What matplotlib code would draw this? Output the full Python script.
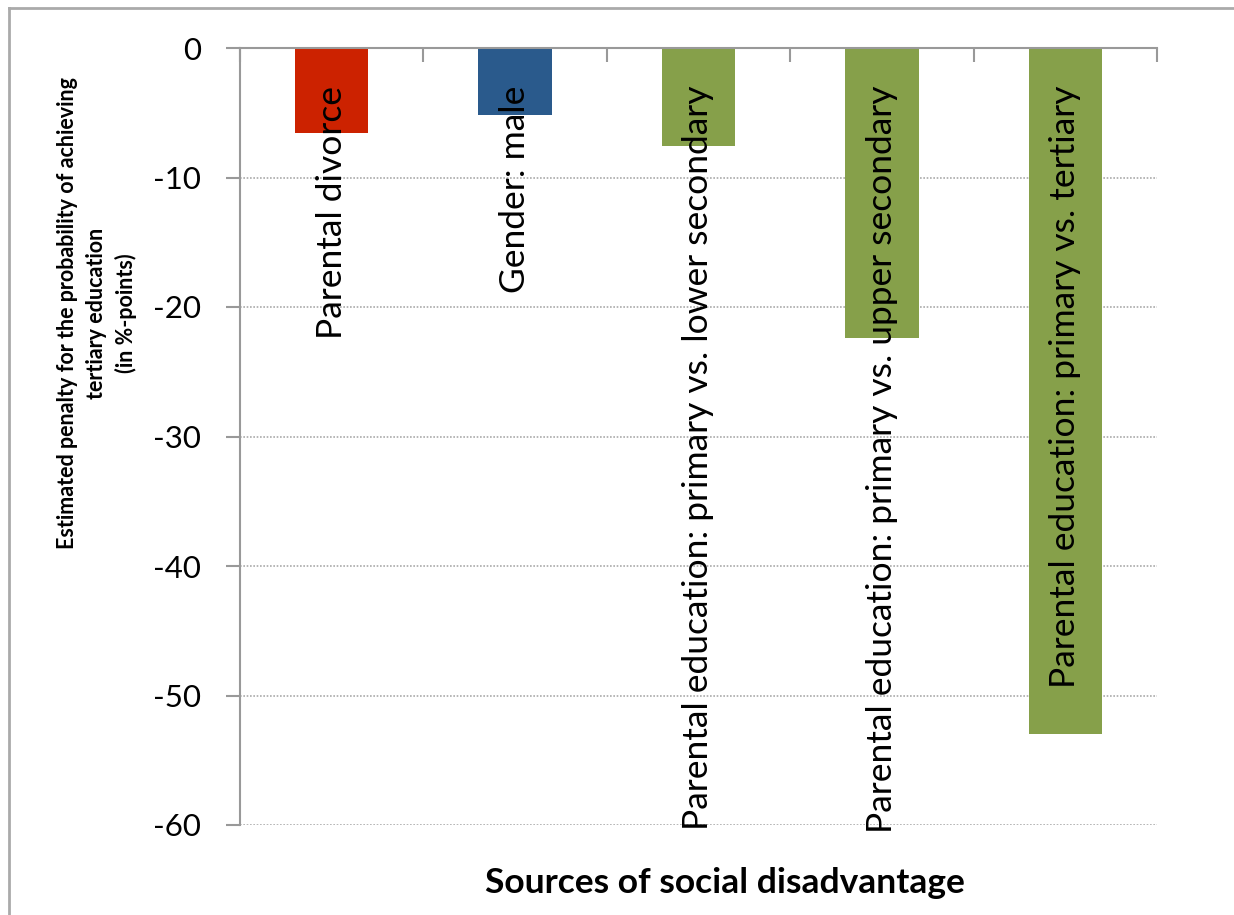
import numpy as np
import matplotlib.pyplot as plt
from matplotlib.lines import Line2D

# data
categories = ['Parental divorce', 'Gender: male',
              'Parental education: primary vs. lower secondary',
              'Parental education: primary vs. upper secondary',
              'Parental education: primary vs. tertiary']
penalty = [-6.6, -5.2, -7.6, -22.4, -53.0]
bar_colors = ['#CC2200', '#2A5A8C', '#86A04A', '#86A04A', '#86A04A']
yticks = [0, -10, -20, -30, -40, -50, -60]

plt.rcParams['font.family'] = ['Lato', 'DejaVu Sans']

fig = plt.figure(figsize=(12.34, 9.15), dpi=100)
ax = fig.add_axes([240 / 1234, 1 - 825 / 915, (1157 - 240) / 1234, (825 - 48) / 915])

x = np.arange(len(categories))
ax.bar(x, penalty, width=0.4, color=bar_colors, zorder=2)

for xi, lab in zip(x, categories):
    ax.text(xi, -2.9, lab, rotation=90, ha='center', va='top',
            fontsize=25.5, color='black', zorder=3)

ax.set_xlim(-0.5, len(categories) - 0.5)
ax.set_ylim(-60, 0)
ax.set_yticks(yticks)
ax.set_yticklabels([str(v) for v in yticks], fontsize=22.5)
ax.yaxis.grid(True, linestyle=(0, (1, 1)), color='#aaaaaa', linewidth=1.2, zorder=0)

# category axis sits at zero (top)
ax.xaxis.tick_top()
ax.set_xticks(np.arange(-0.5, len(categories), 1.0))
ax.set_xticklabels([])
ax.tick_params(axis='x', direction='in', length=10, width=1.5, color='#999999')
ax.tick_params(axis='y', direction='out', length=10, width=1.5, color='#999999', pad=18)

for s in ['bottom', 'right']:
    ax.spines[s].set_visible(False)
for s in ['top', 'left']:
    ax.spines[s].set_color('#999999')
    ax.spines[s].set_linewidth(1.5)

fig.text(97 / 1234, 1 - 313 / 915,
         'Estimated penalty for the probability of achieving\ntertiary education\n(in %-points)',
         rotation=90, ha='center', va='center', fontsize=15.5, fontweight='bold',
         linespacing=1.45)
fig.text(725 / 1234, 1 - 883 / 915, 'Sources of social disadvantage',
         ha='center', va='center', fontsize=25.5, fontweight='bold')

# outer chart frame (cropped on the right and bottom)
fig.add_artist(Line2D([9 / 1234, 1.0], [1 - 8 / 915, 1 - 8 / 915], color='#aaaaaa', lw=2))
fig.add_artist(Line2D([9 / 1234, 9 / 1234], [1 - 8 / 915, 0.0], color='#aaaaaa', lw=2))

fig.savefig('out.png', dpi=100)
